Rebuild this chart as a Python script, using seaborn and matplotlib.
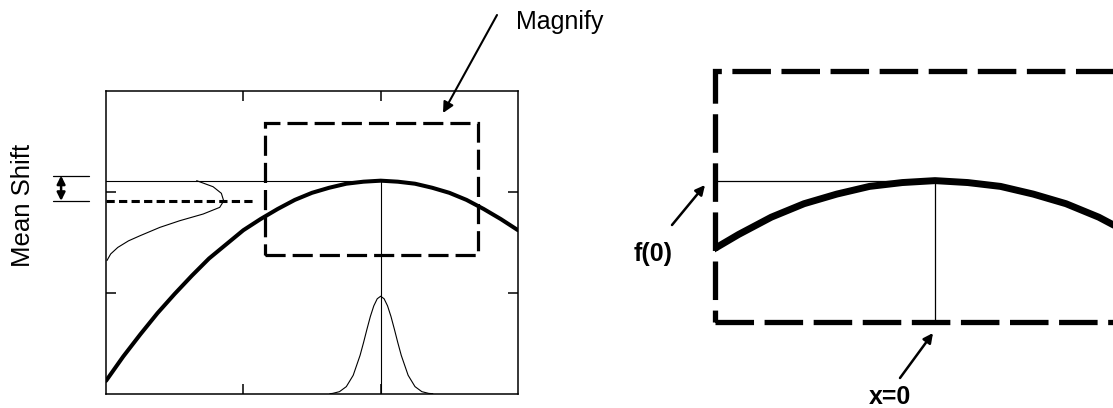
import matplotlib
matplotlib.use("Agg")
import matplotlib.pyplot as plt
from matplotlib.patches import Rectangle, FancyArrowPatch
import pandas as pd
import seaborn as sns

# Response curve f(x)
curve_x = [0.0, 0.125, 0.25, 0.375, 0.5, 0.625, 0.75, 0.875, 1.0, 1.125, 1.25, 1.375,
           1.5, 1.625, 1.75, 1.875, 2.0, 2.125, 2.25, 2.375, 2.5, 2.625, 2.75, 2.875, 3.0]
curve_y = [0.13, 0.37, 0.59, 0.80, 0.99, 1.17, 1.34, 1.48, 1.62, 1.73, 1.83, 1.92,
           1.99, 2.04, 2.08, 2.10, 2.11, 2.10, 2.08, 2.04, 1.99, 1.92, 1.83, 1.73, 1.62]

# Input distribution around x = 0 (position 2 on this axis)
input_x = [1.63, 1.65, 1.70, 1.75, 1.80, 1.85, 1.875, 1.90, 1.925, 1.95, 1.975, 2.00,
           2.025, 2.05, 2.075, 2.10, 2.125, 2.15, 2.20, 2.25, 2.30, 2.35, 2.38]
input_pdf = [0.003, 0.006, 0.023, 0.073, 0.185, 0.382, 0.507, 0.640, 0.767, 0.872, 0.942, 0.967,
             0.942, 0.872, 0.767, 0.640, 0.507, 0.382, 0.185, 0.073, 0.023, 0.006, 0.003]

# Output distribution of f, drawn sideways from the left spine
output_f = [2.11, 2.05, 1.985, 1.91, 1.846, 1.78, 1.714, 1.648, 1.565, 1.515, 1.45, 1.385, 1.32]
output_pdf = [0.66, 0.78, 0.84, 0.857, 0.828, 0.707, 0.537, 0.392, 0.247, 0.164, 0.086, 0.034, 0.007]

peak_x = 2.0
peak_f = 2.11
mean_f = 1.91
mean_line_end = 1.09
shift_top = 2.16
zoom_x = (1.16, 2.71)
zoom_y = (1.375, 2.68)
tick_pos = [1, 2]

curve = pd.DataFrame({"x": curve_x, "f": curve_y})
inp = pd.DataFrame({"x": input_x, "pdf": input_pdf})
out = pd.DataFrame({"f": output_f, "pdf": output_pdf})

sns.set_theme(style="white")
plt.rcParams["font.family"] = ["Liberation Sans", "DejaVu Sans"]

W, H = 1113, 408
fig = plt.figure(figsize=(W / 100, H / 100), dpi=100)
fig.patch.set_facecolor("white")


def fp(x, y):
    """Pixel position (from top-left) to figure fraction."""
    return (x / W, 1 - y / H)


def px_rect(left, top, right, bottom):
    return [left / W, 1 - bottom / H, (right - left) / W, (bottom - top) / H]


# ---- overview panel ----
ax = fig.add_axes(px_rect(106, 90.7, 518, 394))
ax.set_xlim(0, 3)
ax.set_ylim(0, 3)
for s in ax.spines.values():
    s.set_color("black")
    s.set_linewidth(1.1)
ax.set_xticks(tick_pos)
ax.set_yticks(tick_pos)
ax.tick_params(direction="in", length=7, width=1.1, color="black",
               top=True, bottom=True, left=True, right=True,
               labelbottom=False, labelleft=False)

sns.lineplot(data=curve, x="x", y="f", ax=ax, color="black", lw=2.9, legend=False)
sns.lineplot(data=inp, x="x", y="pdf", ax=ax, color="black", lw=0.8, legend=False)
sns.lineplot(data=out, x="pdf", y="f", ax=ax, color="black", lw=0.8, sort=False,
             orient="y", legend=False)
ax.plot([0, peak_x], [peak_f, peak_f], color="black", lw=0.8)
ax.plot([peak_x, peak_x], [0, peak_f], color="black", lw=0.8)
ax.plot([0, mean_line_end], [mean_f, mean_f], color="black", lw=2.2,
        linestyle=(0, (2.7, 1.4)))
ax.add_patch(Rectangle((zoom_x[0], zoom_y[0]), zoom_x[1] - zoom_x[0], zoom_y[1] - zoom_y[0],
                       fill=False, edgecolor="black", lw=2.3,
                       linestyle=(0, (6.3, 2.2))))
ax.set_xlabel("")
ax.set_ylabel("")

# mean shift bracket outside the left spine
for fy in (shift_top, mean_f):
    ax.plot([-0.385, -0.123], [fy, fy], color="black", lw=0.9, clip_on=False)
ax.add_patch(FancyArrowPatch((-0.327, shift_top), (-0.327, mean_f), arrowstyle="<|-|>",
                             mutation_scale=12, lw=1.8, color="black", clip_on=False,
                             shrinkA=0, shrinkB=0))
fig.text(*fp(23, 205), "Mean Shift", rotation=90, ha="center", va="center",
         fontsize=18.5, color="black")

# ---- magnified panel ----
az = fig.add_axes(px_rect(715, 71, 1121, 322))
az.set_xlim(*zoom_x)
az.set_ylim(*zoom_y)
az.set_axis_off()
sns.lineplot(data=curve, x="x", y="f", ax=az, color="black", lw=5.0, legend=False)
az.plot([zoom_x[0], peak_x], [peak_f, peak_f], color="black", lw=0.9)
az.plot([peak_x, peak_x], [zoom_y[0], peak_f], color="black", lw=0.9)
az.add_patch(Rectangle((0, 0), 1, 1, transform=az.transAxes, fill=False,
                       edgecolor="black", lw=3.8, linestyle=(0, (7.3, 2.0)),
                       clip_on=False))

# ---- labels and pointers ----
fig.text(*fp(516, 22), "Magnify", ha="left", va="center", fontsize=18, color="black")
fig.add_artist(FancyArrowPatch(fp(497, 15), fp(443, 113), transform=fig.transFigure,
                               arrowstyle="-|>", mutation_scale=16, lw=1.5,
                               color="black", shrinkA=0, shrinkB=0))
fig.text(*fp(653, 254), "f(0)", ha="center", va="center", fontsize=18,
         fontweight="bold", color="black")
fig.add_artist(FancyArrowPatch(fp(672, 225), fp(705, 185), transform=fig.transFigure,
                               arrowstyle="-|>", mutation_scale=14, lw=1.8,
                               color="black", shrinkA=0, shrinkB=0))
fig.text(*fp(890, 397), "x=0", ha="center", va="center", fontsize=18,
         fontweight="bold", color="black")
fig.add_artist(FancyArrowPatch(fp(900, 378), fp(933, 333), transform=fig.transFigure,
                               arrowstyle="-|>", mutation_scale=14, lw=1.8,
                               color="black", shrinkA=0, shrinkB=0))

fig.savefig("out.png", dpi=100, facecolor="white")
